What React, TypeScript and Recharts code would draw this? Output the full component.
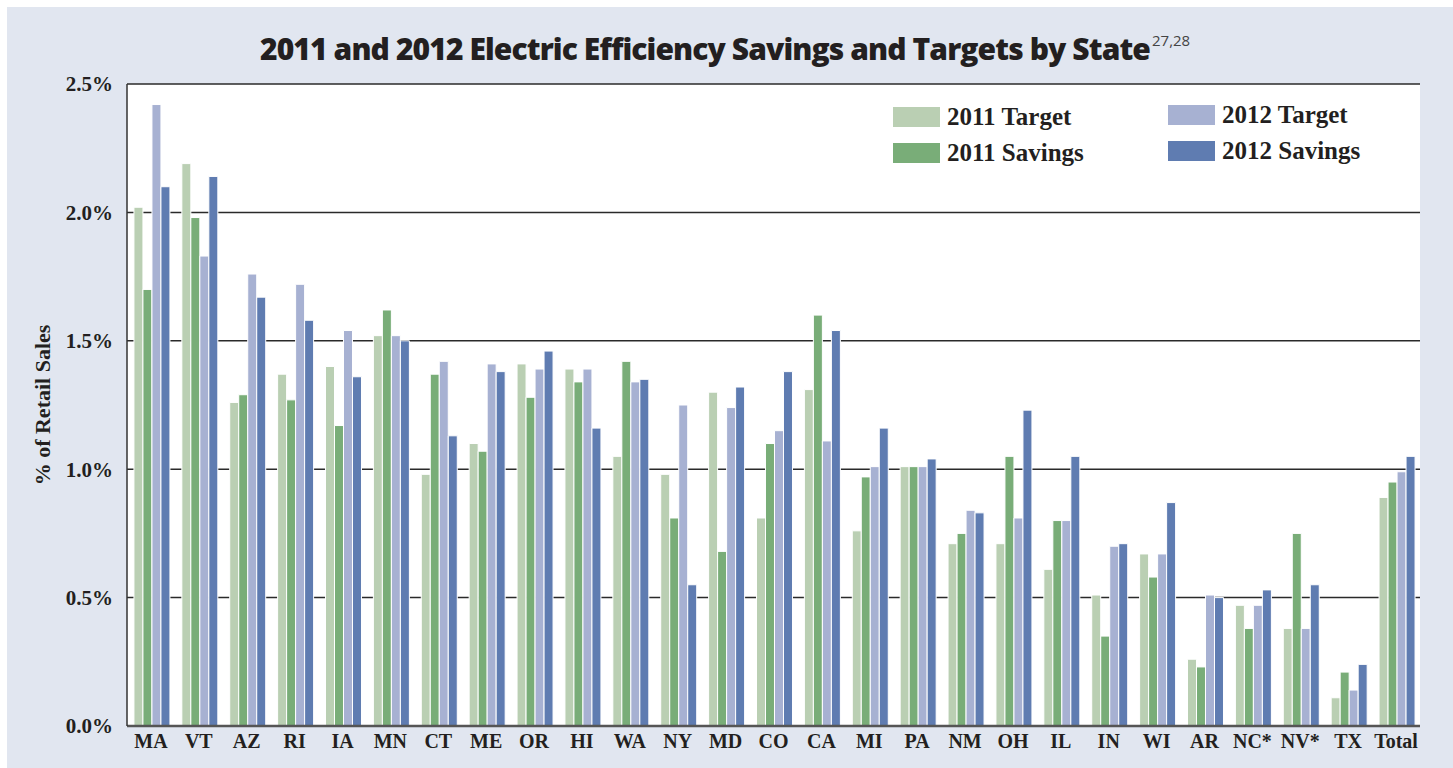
import { BarChart, Bar, XAxis, YAxis, CartesianGrid, Legend } from 'recharts';

const states = ['MA', 'VT', 'AZ', 'RI', 'IA', 'MN', 'CT', 'ME', 'OR', 'HI', 'WA', 'NY', 'MD', 'CO', 'CA', 'MI', 'PA', 'NM', 'OH', 'IL', 'IN', 'WI', 'AR', 'NC*', 'NV*', 'TX', 'Total'];

const target2011 = [2.02, 2.19, 1.26, 1.37, 1.40, 1.52, 0.98, 1.10, 1.41, 1.39, 1.05, 0.98, 1.30, 0.81, 1.31, 0.76, 1.01, 0.71, 0.71, 0.61, 0.51, 0.67, 0.26, 0.47, 0.38, 0.11, 0.89];
const savings2011 = [1.70, 1.98, 1.29, 1.27, 1.17, 1.62, 1.37, 1.07, 1.28, 1.34, 1.42, 0.81, 0.68, 1.10, 1.60, 0.97, 1.01, 0.75, 1.05, 0.80, 0.35, 0.58, 0.23, 0.38, 0.75, 0.21, 0.95];
const target2012 = [2.42, 1.83, 1.76, 1.72, 1.54, 1.52, 1.42, 1.41, 1.39, 1.39, 1.34, 1.25, 1.24, 1.15, 1.11, 1.01, 1.01, 0.84, 0.81, 0.80, 0.70, 0.67, 0.51, 0.47, 0.38, 0.14, 0.99];
const savings2012 = [2.10, 2.14, 1.67, 1.58, 1.36, 1.50, 1.13, 1.38, 1.46, 1.16, 1.35, 0.55, 1.32, 1.38, 1.54, 1.16, 1.04, 0.83, 1.23, 1.05, 0.71, 0.87, 0.50, 0.53, 0.55, 0.24, 1.05];

const yTicks = [0, 0.5, 1, 1.5, 2, 2.5];

const series = [
  { key: 't2011', name: '2011 Target', color: '#BACFB3' },
  { key: 's2011', name: '2011 Savings', color: '#79AD78' },
  { key: 't2012', name: '2012 Target', color: '#A7B1D2' },
  { key: 's2012', name: '2012 Savings', color: '#5F7CB1' }
];

const data = states.map((s, i) => ({
  state: s,
  t2011: target2011[i],
  s2011: savings2011[i],
  t2012: target2012[i],
  s2012: savings2012[i]
}));

const serif = '"Liberation Serif", "DejaVu Serif", serif';
const ink = '#231F20';

function LegendBox() {
  // two columns: 2011 on the left, 2012 on the right
  const cols = [893, 1168];
  const rows = [103, 139];
  return (
    <div style={{ position: 'relative', width: 0, height: 0 }}>
      {series.map((s, i) => {
        const col = i < 2 ? 0 : 1;
        const row = i % 2;
        return (
          <div
            key={s.key}
            style={{
              position: 'absolute',
              left: cols[col],
              top: rows[row] - (col === 1 ? 2 : 0),
              display: 'flex',
              alignItems: 'center',
              whiteSpace: 'nowrap'
            }}
          >
            <div style={{ width: 47, height: 20, background: s.color, marginRight: 7 }} />
            <span style={{ fontFamily: serif, fontWeight: 700, fontSize: 25, color: ink }}>{s.name}</span>
          </div>
        );
      })}
    </div>
  );
}

export default function App() {
  return (
    <div style={{ position: 'absolute', left: 0, top: 0, width: 1453, height: 768, background: '#fff', overflow: 'hidden' }}>
      <div style={{ position: 'absolute', left: 7, top: 7, width: 1446, height: 761, background: '#E1E6F0' }} />
      <div
        style={{
          position: 'absolute',
          left: 260,
          top: 28,
          fontFamily: '"Open Sans", sans-serif',
          fontWeight: 800,
          fontSize: 30,
          letterSpacing: -0.9,
          color: ink,
          whiteSpace: 'nowrap'
        }}
      >
        2011 and 2012 Electric Efficiency Savings and Targets by State
        <span style={{ fontWeight: 400, fontSize: 15, color: '#444', verticalAlign: 14, letterSpacing: 0, marginLeft: 2 }}>27,28</span>
      </div>
      <div style={{ position: 'absolute', left: 0, top: 0 }}>
        <BarChart
          width={1453}
          height={768}
          data={data}
          margin={{ top: 84, right: 33, bottom: 0, left: 0 }}
          barCategoryGap="14.5%"
          barGap={0}
        >
          <CartesianGrid horizontal vertical={false} fill="#fff" stroke="#2a2a2a" strokeWidth={1.5} />
          <XAxis
            dataKey="state"
            height={42}
            interval={0}
            tickLine={false}
            axisLine={{ stroke: '#555', strokeWidth: 2.5 }}
            tick={{ fontFamily: serif, fontWeight: 700, fontSize: 20, fill: ink }}
          />
          <YAxis
            width={127}
            domain={[0, 2.5]}
            ticks={yTicks}
            interval={0}
            tickLine={false}
            tickMargin={8}
            axisLine={{ stroke: '#333', strokeWidth: 1.5 }}
            tickFormatter={(v: number) => v.toFixed(1) + '%'}
            tick={{ fontFamily: serif, fontWeight: 700, fontSize: 21, fill: ink }}
            label={{
              value: '% of Retail Sales',
              content: () => (
                <text
                  x={42}
                  y={405}
                  transform="rotate(-90, 42, 405)"
                  textAnchor="middle"
                  dominantBaseline="central"
                  fontFamily={serif}
                  fontWeight={700}
                  fontSize={22}
                  fill={ink}
                >
                  % of Retail Sales
                </text>
              )
            }}
          />
          <YAxis
            yAxisId="right"
            orientation="right"
            width={0}
            domain={[0, 2.5]}
            tick={false}
            tickLine={false}
            axisLine={{ stroke: '#444', strokeWidth: 1.5 }}
          />
          <Legend content={() => <LegendBox />} wrapperStyle={{ left: 0, top: 0, width: 0, height: 0 }} />
          {series.map((s) => (
            <Bar
              key={s.key}
              dataKey={s.key}
              name={s.name}
              fill={s.color}
              stroke="#fff"
              strokeWidth={1}
              isAnimationActive={false}
            />
          ))}
        </BarChart>
      </div>
    </div>
  );
}
